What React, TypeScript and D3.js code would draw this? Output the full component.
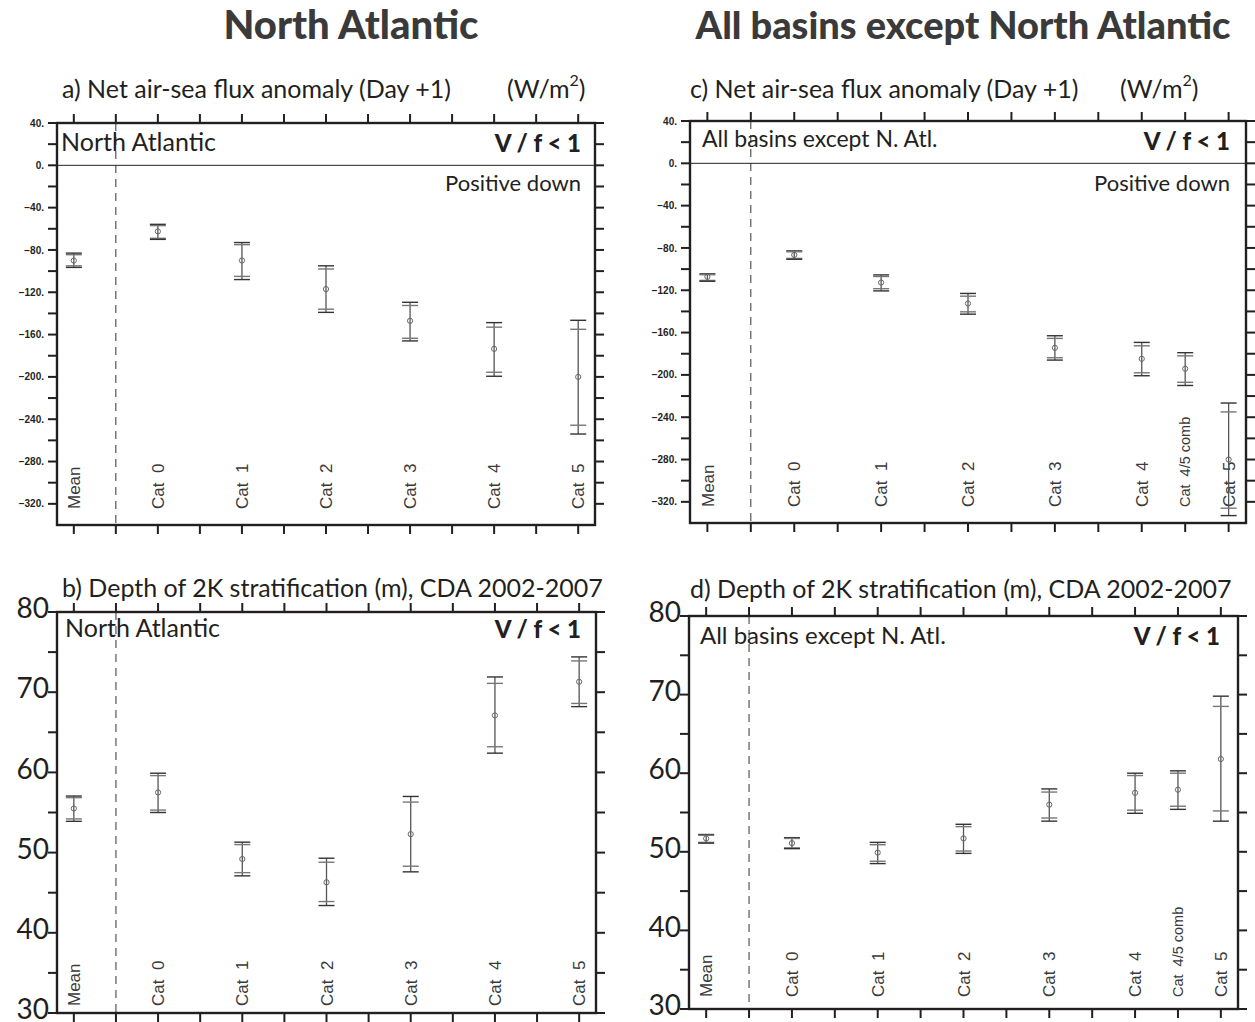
import React, { useRef, useEffect } from "react";
import * as d3 from "d3";

// category labels and their x slots (slot 2 is the dashed separator)
const catsNA = ["Mean", "Cat 0", "Cat 1", "Cat 2", "Cat 3", "Cat 4", "Cat 5"];
const slotsNA = [1, 3, 5, 7, 9, 11, 13];
const catsAll = ["Mean", "Cat 0", "Cat 1", "Cat 2", "Cat 3", "Cat 4", "Cat 4/5 comb", "Cat 5"];
const slotsAll = [1, 3, 5, 7, 9, 11, 12, 13];
const xTickSlots = d3.range(1, 14);

// a) net flux, North Atlantic
const fluxNaMid = [-90, -62.5, -90, -117, -147, -173.5, -200];
const fluxNaHiOuter = [-83, -55.8, -73, -95, -129.5, -148.7, -146.5];
const fluxNaHiInner = [-84.5, -57, -75, -98, -132.5, -153, -155];
const fluxNaLoInner = [-95, -69, -105, -136, -163.5, -195.6, -245.7];
const fluxNaLoOuter = [-96.5, -70, -108, -139, -166, -199.4, -254];

// c) net flux, all basins except NA
const fluxAllMid = [-107.3, -86.6, -112.7, -132.5, -174.4, -184.8, -194.2, -280];
const fluxAllHiOuter = [-104.5, -82.8, -105.5, -123, -163, -169.3, -179, -226.6];
const fluxAllHiInner = [-105.3, -83.6, -107, -125.6, -165.5, -172.5, -182, -235];
const fluxAllLoInner = [-110.7, -89.9, -118.5, -140.4, -183.8, -198, -207, -326];
const fluxAllLoOuter = [-111.5, -90.7, -120.6, -142.6, -186, -200.8, -210, -333];

// b) 2K stratification depth, North Atlantic
const depthNaMid = [55.5, 57.5, 49.2, 46.3, 52.3, 67.1, 71.3];
const depthNaHiOuter = [57.05, 59.9, 51.3, 49.3, 57.0, 71.9, 74.4];
const depthNaHiInner = [56.85, 59.6, 51.0, 48.8, 56.3, 71.1, 73.9];
const depthNaLoInner = [54.2, 55.3, 47.5, 43.9, 48.3, 63.2, 68.6];
const depthNaLoOuter = [53.9, 55.0, 47.1, 43.4, 47.6, 62.4, 68.2];

// d) 2K stratification depth, all basins except NA
const depthAllMid = [51.7, 51.1, 49.9, 51.7, 56.0, 57.5, 57.9, 61.8];
const depthAllHiOuter = [52.2, 51.8, 51.2, 53.5, 58.0, 60.0, 60.3, 69.8];
const depthAllHiInner = [52.1, 51.7, 50.9, 53.2, 57.6, 59.7, 60.0, 68.5];
const depthAllLoInner = [51.2, 50.5, 48.8, 50.1, 54.3, 55.3, 55.8, 55.2];
const depthAllLoOuter = [51.1, 50.4, 48.5, 49.8, 53.9, 54.9, 55.4, 53.9];

const fluxTicks = d3.range(-320, 41, 20);
const fluxLabels = d3.range(-320, 41, 40);
const depthTicks = d3.range(30, 81, 5);
const depthLabels = d3.range(30, 81, 10);

const FONT = "Lato, 'Open Sans', sans-serif";
const CAT_FONT = "'Liberation Sans', Arial, sans-serif";

function drawPanel(svg, p) {
  const x = d3.scaleLinear().domain([0.6, 13.4]).range([p.l, p.r]);
  const y = d3.scaleLinear().domain(p.yDomain).range([p.b, p.t]);
  const g = svg.append("g");

  // subtitle
  g.append("text")
    .attr("x", p.subX).attr("y", p.subY)
    .attr("font-family", FONT).attr("font-size", 25).attr("fill", "#231f20")
    .text(p.subtitle);
  if (p.unitsX) {
    const u = g.append("text")
      .attr("x", p.unitsX).attr("y", p.subY)
      .attr("font-family", FONT).attr("font-size", 25).attr("fill", "#231f20");
    u.append("tspan").text("(W/m");
    u.append("tspan").attr("dy", -12).attr("font-size", 16).text("2");
    u.append("tspan").attr("dy", 12).text(")");
  }

  // separator and zero line
  g.append("line")
    .attr("x1", x(2)).attr("x2", x(2)).attr("y1", p.t).attr("y2", p.b)
    .attr("stroke", "#333").attr("stroke-width", 1).attr("stroke-dasharray", "8,6");
  if (p.zero) {
    g.append("line")
      .attr("x1", p.l).attr("x2", p.r).attr("y1", y(0)).attr("y2", y(0))
      .attr("stroke", "#222").attr("stroke-width", 1);
  }

  // x ticks on top and bottom
  g.selectAll(".xt").data(xTickSlots).enter().append("line")
    .attr("x1", d => x(d)).attr("x2", d => x(d)).attr("y1", p.t).attr("y2", p.t - 9)
    .attr("stroke", "#231f20").attr("stroke-width", 2);
  g.selectAll(".xb").data(xTickSlots).enter().append("line")
    .attr("x1", d => x(d)).attr("x2", d => x(d)).attr("y1", p.b).attr("y2", p.b + 9)
    .attr("stroke", "#231f20").attr("stroke-width", 2);

  // y ticks left and right
  g.selectAll(".yl").data(p.yTicks).enter().append("line")
    .attr("x1", p.l - 9).attr("x2", p.l).attr("y1", d => y(d)).attr("y2", d => y(d))
    .attr("stroke", "#231f20").attr("stroke-width", 2);
  g.selectAll(".yr").data(p.yTicks).enter().append("line")
    .attr("x1", p.r).attr("x2", p.r + 9).attr("y1", d => y(d)).attr("y2", d => y(d))
    .attr("stroke", "#231f20").attr("stroke-width", 2);

  g.selectAll(".ylab").data(p.yLabels).enter().append("text")
    .attr("x", p.l - p.labGap).attr("y", d => y(d))
    .attr("dy", p.yDy).attr("text-anchor", "end")
    .attr("font-family", p.yFont).attr("font-weight", p.yWeight)
    .attr("font-size", p.yFontSize).attr("fill", "#231f20")
    .text(p.yFmt);

  // frame
  g.append("rect")
    .attr("x", p.l).attr("y", p.t).attr("width", p.r - p.l).attr("height", p.b - p.t)
    .attr("fill", "none").attr("stroke", "#231f20").attr("stroke-width", 2.4);

  // category labels
  g.selectAll(".cat").data(p.cats).enter().append("text")
    .attr("transform", (d, i) => `translate(${x(p.slots[i])},${p.b - p.catGap}) rotate(-90)`)
    .attr("dy", "0.36em")
    .attr("font-family", CAT_FONT).attr("font-weight", 400)
    .attr("font-size", d => (d.length > 6 ? 14.5 : 17)).attr("fill", "#3a3a3a")
    .style("white-space", "pre")
    .text(d => d.replace(" ", "  "));

  // error bars
  const bars = g.selectAll(".bar").data(p.mid).enter().append("g")
    .attr("transform", (d, i) => `translate(${x(p.slots[i])},0)`);
  bars.append("line")
    .attr("y1", (d, i) => y(p.hiO[i])).attr("y2", (d, i) => y(p.loO[i]))
    .attr("stroke", "#555").attr("stroke-width", 1.3);
  const caps = [p.hiO, p.hiI, p.loI, p.loO];
  caps.forEach((arr, k) => {
    bars.append("line")
      .attr("x1", -8).attr("x2", 8)
      .attr("y1", (d, i) => y(arr[i])).attr("y2", (d, i) => y(arr[i]))
      .attr("stroke", k === 0 || k === 3 ? "#333" : "#777").attr("stroke-width", 1.4);
  });
  bars.append("circle")
    .attr("cy", d => y(d)).attr("r", 2.6)
    .attr("fill", "none").attr("stroke", "#666").attr("stroke-width", 1);

  // in-panel text
  g.append("text")
    .attr("x", p.basinX).attr("y", p.basinY)
    .attr("font-family", FONT).attr("font-size", p.basinSize).attr("fill", "#231f20")
    .text(p.basin);
  g.append("text")
    .attr("x", p.textR).attr("y", p.vfY).attr("text-anchor", "end")
    .attr("font-family", FONT).attr("font-weight", 900).attr("font-size", 24).attr("fill", "#231f20")
    .style("white-space", "pre")
    .text("V / f < 1");
  if (p.posDown) {
    g.append("text")
      .attr("x", p.textR).attr("y", p.posDown).attr("text-anchor", "end")
      .attr("font-family", FONT).attr("font-size", 22).attr("fill", "#231f20")
      .text("Positive down");
  }
}

const fluxFmt = v => (v < 0 ? "\u2212" : "") + Math.abs(v) + ".";

const App = () => {
  const svgRef = useRef(null);

  useEffect(() => {
    document.body.style.margin = "0";
    const svg = d3.select(svgRef.current);
    svg.selectAll("*").remove();

    svg.append("text").attr("x", 351).attr("y", 39).attr("text-anchor", "middle")
      .attr("font-family", FONT).attr("font-weight", 900).attr("font-size", 40).attr("fill", "#3a3a3a")
      .text("North Atlantic");
    svg.append("text").attr("x", 963).attr("y", 39).attr("text-anchor", "middle")
      .attr("font-family", FONT).attr("font-weight", 900).attr("font-size", 38).attr("fill", "#3a3a3a")
      .text("All basins except North Atlantic");

    const fluxCommon = {
      yDomain: [-340, 40], yTicks: fluxTicks, yLabels: fluxLabels, yFmt: fluxFmt,
      yFont: "'Liberation Sans', Arial, sans-serif", yWeight: 700, yFontSize: 10, labGap: 13, yDy: "0.36em",
      zero: true, catGap: 16,
    };
    const depthCommon = {
      yDomain: [30, 80], yTicks: depthTicks, yLabels: depthLabels, yFmt: d => String(d),
      yFont: FONT, yWeight: 400, yFontSize: 28, labGap: 8, yDy: "0.22em", zero: false,
    };

    drawPanel(svg, {
      ...fluxCommon, l: 57, r: 595, t: 123, b: 525,
      subtitle: "a) Net air-sea flux anomaly (Day +1)", subX: 62, subY: 98, unitsX: 507,
      cats: catsNA, slots: slotsNA,
      mid: fluxNaMid, hiO: fluxNaHiOuter, hiI: fluxNaHiInner, loI: fluxNaLoInner, loO: fluxNaLoOuter,
      basin: "North Atlantic", basinX: 61, basinY: 151, basinSize: 25,
      textR: 581, vfY: 152, posDown: 191,
    });
    drawPanel(svg, {
      ...fluxCommon, l: 690, r: 1246, t: 121, b: 523,
      subtitle: "c) Net air-sea flux anomaly (Day +1)", subX: 690, subY: 98, unitsX: 1120,
      cats: catsAll, slots: slotsAll,
      mid: fluxAllMid, hiO: fluxAllHiOuter, hiI: fluxAllHiInner, loI: fluxAllLoInner, loO: fluxAllLoOuter,
      basin: "All basins except N. Atl.", basinX: 702, basinY: 147, basinSize: 23,
      textR: 1230, vfY: 150, posDown: 191,
    });
    drawPanel(svg, {
      ...depthCommon, l: 57, r: 596, t: 612, b: 1013, catGap: 7,
      subtitle: "b) Depth of 2K stratification (m), CDA 2002-2007", subX: 62, subY: 597,
      cats: catsNA, slots: slotsNA,
      mid: depthNaMid, hiO: depthNaHiOuter, hiI: depthNaHiInner, loI: depthNaLoInner, loO: depthNaLoOuter,
      basin: "North Atlantic", basinX: 65, basinY: 637, basinSize: 25,
      textR: 581, vfY: 638,
    });
    drawPanel(svg, {
      ...depthCommon, l: 689, r: 1238, t: 616, b: 1009, catGap: 12,
      subtitle: "d) Depth of 2K stratification (m), CDA 2002-2007", subX: 690, subY: 598,
      cats: catsAll, slots: slotsAll,
      mid: depthAllMid, hiO: depthAllHiOuter, hiI: depthAllHiInner, loI: depthAllLoInner, loO: depthAllLoOuter,
      basin: "All basins except N. Atl.", basinX: 700, basinY: 644, basinSize: 24,
      textR: 1220, vfY: 645,
    });
  }, []);

  return <svg ref={svgRef} width={1255} height={1022} style={{ display: "block", background: "white" }} />;
};

export default App;
